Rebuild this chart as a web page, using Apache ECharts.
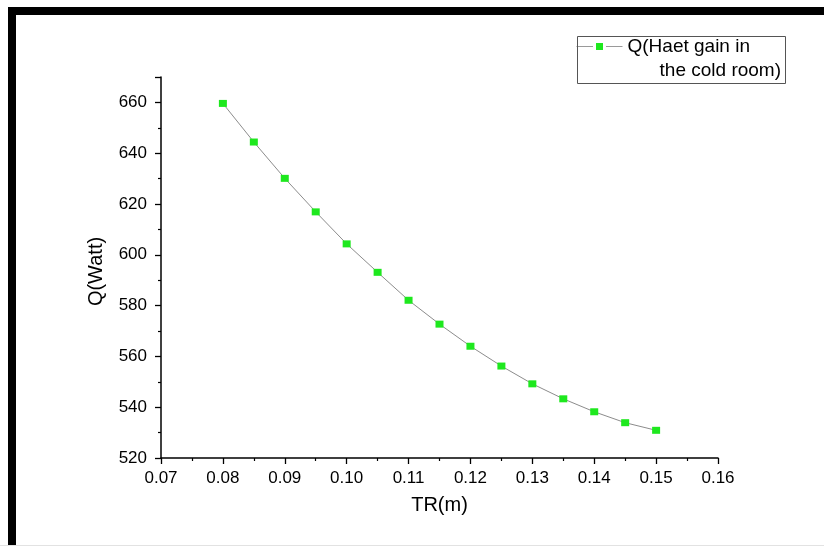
<!DOCTYPE html>
<html>
<head>
<meta charset="utf-8">
<script src="https://cdn.jsdelivr.net/npm/echarts@6/dist/echarts.min.js"></script>
<style>
  html, body { margin: 0; padding: 0; background: #fff; }
  #chart { width: 824px; height: 546px; }
</style>
</head>
<body>
<div id="chart"></div>
<script>
// Thermal radius TR (m) against heat gain of the cold room Q (W)
const trValues = [0.08, 0.085, 0.09, 0.095, 0.10, 0.105, 0.11, 0.115, 0.12, 0.125, 0.13, 0.135, 0.14, 0.145, 0.15];
const heatGain = [659.6, 644.4, 630.1, 616.9, 604.3, 593.1, 582.1, 572.7, 564.0, 556.2, 549.2, 543.3, 538.2, 533.9, 530.9];
const seriesName = 'Q(Haet gain in the cold room)';
const legendLines = ['Q(Haet gain in', 'the cold room)'];
const xTicks = { min: 0.07, max: 0.16, interval: 0.01 };
const yTicks = { min: 520, max: 670, interval: 20 };

const points = trValues.map((x, i) => [x, heatGain[i]]);
const font = 'Liberation Sans, Arial, sans-serif';

const chart = echarts.init(document.getElementById('chart'), null, { renderer: 'canvas' });

chart.setOption({
  animation: false,
  backgroundColor: '#ffffff',
  grid: { left: 161, right: 106, top: 77, bottom: 88, containLabel: false },
  legend: {
    left: 576,
    top: 37,
    padding: 0,
    itemWidth: 46,
    itemHeight: 12.5,
    data: [seriesName],
    formatter: () => legendLines[0],
    itemStyle: { borderColor: '#ffffff', borderWidth: 3 },
    lineStyle: { color: '#9a9a9a', width: 1 },
    textStyle: { fontFamily: font, fontSize: 19, color: '#000' }
  },
  xAxis: {
    type: 'value',
    min: xTicks.min,
    max: xTicks.max,
    interval: xTicks.interval,
    name: 'TR(m)',
    nameLocation: 'middle',
    nameGap: 37,
    nameTextStyle: { fontFamily: font, fontSize: 20, color: '#000' },
    axisLine: { onZero: false, lineStyle: { color: '#000', width: 1.5 } },
    axisTick: { show: true, inside: false, length: 6, lineStyle: { color: '#000', width: 1.3 } },
    minorTick: { show: true, splitNumber: 2, length: 3, lineStyle: { color: '#000', width: 1.2 } },
    splitLine: { show: false },
    axisLabel: {
      fontFamily: font, fontSize: 17, color: '#000', margin: 12,
      formatter: v => v.toFixed(2)
    }
  },
  yAxis: {
    type: 'value',
    min: yTicks.min,
    max: yTicks.max,
    interval: yTicks.interval,
    name: 'Q(Watt)',
    nameLocation: 'middle',
    nameGap: 55,
    nameTextStyle: { fontFamily: font, fontSize: 20, color: '#000', padding: [0, 0, 0, -8] },
    axisLine: { onZero: false, lineStyle: { color: '#000', width: 1.5 } },
    axisTick: { show: true, inside: false, length: 6, lineStyle: { color: '#000', width: 1.3 } },
    minorTick: { show: true, splitNumber: 2, length: 3, lineStyle: { color: '#000', width: 1.2 } },
    splitLine: { show: false },
    axisLabel: {
      fontFamily: font, fontSize: 17, color: '#000', margin: 14,
      showMaxLabel: false
    }
  },
  series: [{
    name: seriesName,
    type: 'line',
    data: points,
    symbol: 'rect',
    symbolSize: [8, 7],
    itemStyle: { color: '#1ee81e' },
    lineStyle: { color: '#8c8c8c', width: 1 },
    z: 3
  }],
  graphic: [
    // page frame
    { type: 'rect', left: 8, top: 7, shape: { width: 816, height: 8 }, style: { fill: '#000' }, z: 100 },
    { type: 'rect', left: 8, top: 7, shape: { width: 8, height: 539 }, style: { fill: '#000' }, z: 100 },
    { type: 'rect', left: 0, top: 545, shape: { width: 824, height: 1 }, style: { fill: '#e2e2e2' }, z: 100 },
    // legend box and its second text line
    { type: 'rect', left: 575, top: 34, shape: { width: 208, height: 47 }, style: { fill: 'none', stroke: '#555', lineWidth: 1 }, z: 50 },
    { type: 'text', right: 43, top: 61, style: { text: legendLines[1], font: '19px ' + font, fill: '#000' }, z: 50 }
  ]
});
</script>
</body>
</html>
